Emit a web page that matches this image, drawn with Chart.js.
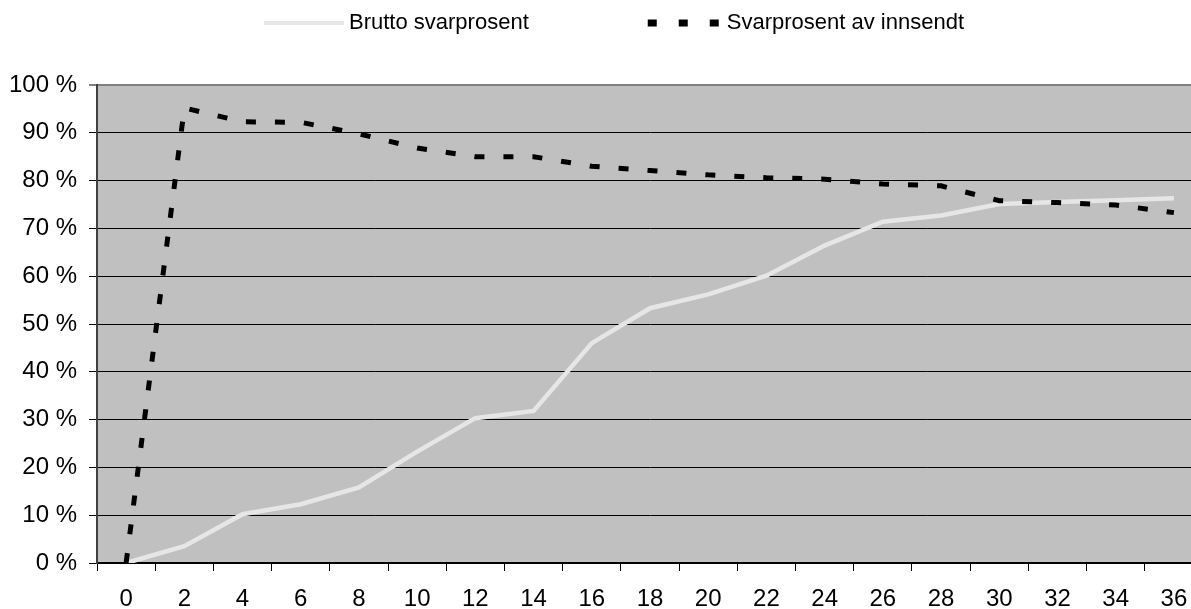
<!DOCTYPE html>
<html>
<head>
<meta charset="utf-8">
<script src="https://cdn.jsdelivr.net/npm/chart.js@4"></script>
<style>
  html, body { margin: 0; padding: 0; background: #fff; overflow: hidden; }
  #wrap { width: 1204px; height: 609px; }
</style>
</head>
<body>
<div id="wrap"><canvas id="c" width="1204" height="609"></canvas></div>
<script>
const categories = ['0','2','4','6','8','10','12','14','16','18','20','22','24','26','28','30','32','34','36'];
const bruttoValues = [0, 3.5, 10.2, 12.3, 15.8, 23.3, 30.3, 31.8, 46.0, 53.3, 56.2, 60.1, 66.4, 71.4, 72.7, 75.1, 75.5, 75.9, 76.3];
const innsendtValues = [0, 95.2, 92.3, 92.2, 89.8, 86.8, 85.0, 85.0, 83.0, 82.1, 81.2, 80.6, 80.3, 79.3, 78.9, 75.8, 75.4, 74.9, 73.3];
const seriesNames = ['Brutto svarprosent', 'Svarprosent av innsendt'];
const yTicks = [0, 10, 20, 30, 40, 50, 60, 70, 80, 90, 100];

const FONT = "'Liberation Sans', Arial, sans-serif";

const plotBg = {
  id: 'plotBg',
  beforeDraw(chart) {
    const { ctx, chartArea: a } = chart;
    ctx.save();
    ctx.fillStyle = '#fff';
    ctx.fillRect(0, 0, chart.width, chart.height);
    ctx.fillStyle = '#c0c0c0';
    ctx.fillRect(a.left, a.top, a.right - a.left, a.bottom - a.top);
    ctx.restore();
  }
};

const customLegend = {
  id: 'customLegend',
  afterDraw(chart) {
    const ctx = chart.ctx;
    const y = 23;
    ctx.save();
    ctx.font = '22px ' + FONT;
    ctx.textBaseline = 'middle';
    ctx.fillStyle = '#000';
    let x = 264;
    // item 1
    ctx.strokeStyle = '#e6e6e6';
    ctx.lineWidth = 4;
    ctx.setLineDash([]);
    ctx.beginPath(); ctx.moveTo(x, y); ctx.lineTo(x + 80, y); ctx.stroke();
    x += 85;
    ctx.fillText(seriesNames[0], x, y);
    x += ctx.measureText(seriesNames[0]).width + 119;
    // item 2
    ctx.strokeStyle = '#000';
    ctx.lineWidth = 7;
    ctx.setLineDash([9, 22]);
    ctx.beginPath(); ctx.moveTo(x, y); ctx.lineTo(x + 71, y); ctx.stroke();
    ctx.setLineDash([]);
    x += 79;
    ctx.fillText(seriesNames[1], x, y);
    ctx.restore();
  }
};

new Chart(document.getElementById('c'), {
  type: 'line',
  data: {
    labels: categories,
    datasets: [
      {
        label: seriesNames[0],
        data: bruttoValues,
        borderColor: '#e6e6e6',
        backgroundColor: '#e6e6e6',
        borderWidth: 4.5,
        pointRadius: 0,
        tension: 0,
        order: 1
      },
      {
        label: seriesNames[1],
        data: innsendtValues,
        borderColor: '#000',
        backgroundColor: '#000',
        borderWidth: 5,
        borderDash: [10, 19],
        borderCapStyle: 'butt',
        pointRadius: 0,
        tension: 0,
        order: 0
      }
    ]
  },
  options: {
    responsive: false,
    animation: false,
    layout: { padding: { top: 85, right: 1, left: 0, bottom: 0 } },
    plugins: {
      legend: { display: false },
      tooltip: { enabled: false }
    },
    scales: {
      x: {
        type: 'category',
        offset: true,
        grid: {
          offset: true,
          drawOnChartArea: false,
          drawTicks: true,
          tickLength: 8,
          color: '#000',
          lineWidth: 1
        },
        border: { display: true, color: '#000', width: 2 },
        ticks: {
          font: { family: FONT, size: 24 },
          color: '#000',
          padding: 14,
          maxRotation: 0,
          autoSkip: false
        },
        afterFit(scale) { scale.height = 46; }
      },
      y: {
        min: 0,
        max: 100,
        afterBuildTicks(scale) { scale.ticks = yTicks.map(v => ({ value: v })); },
        grid: {
          drawTicks: true,
          tickLength: 8,
          color: (c) => (c.tick && c.tick.value === 100 ? '#808080' : '#000'),
          lineWidth: (c) => (c.tick && c.tick.value === 100 ? 2 : 1)
        },
        border: { display: true, color: '#404040', width: 2 },
        ticks: {
          font: { family: FONT, size: 24 },
          color: '#000',
          padding: 12,
          callback: (v) => v + ' %'
        },
        afterFit(scale) { scale.width = 97; }
      }
    }
  },
  plugins: [plotBg, customLegend]
});
</script>
</body>
</html>
